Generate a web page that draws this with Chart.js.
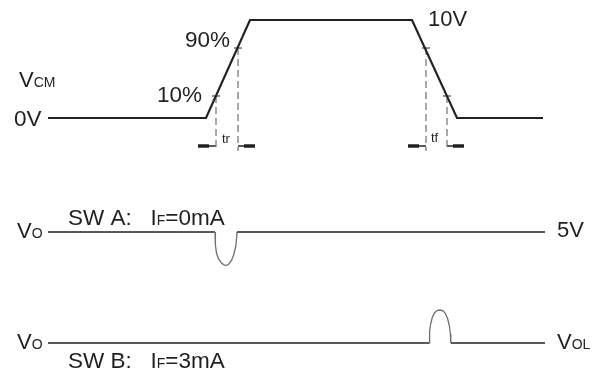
<!DOCTYPE html>
<html>
<head>
<meta charset="utf-8">
<script src="https://cdn.jsdelivr.net/npm/chart.js@4/dist/chart.umd.min.js"></script>
<style>
    html, body { margin: 0; padding: 0; background: #fff; }
    canvas { display: block; }
</style>
</head>
<body>
<canvas id="myChart" width="601" height="373"></canvas>
<script>
// diagram units: x = time position, y = level position (0 at top)
const vcmX = [48, 206, 250, 412, 457, 543]
const vcmY = [118, 118, 20, 20, 118, 118]

// 10% / 90% marks on the edges
const markX = [216, 238, 426, 447]
const markY = [96, 48, 48, 96]
const dashBottom = 151

// tr / tf arrows
const arrowOuterX = [198, 255, 408, 464]
const arrowY = 146

// SW A output, with the dip
const swaX = [48, 215, 215.4, 216.5, 218.5, 221.5, 224, 226, 228.5, 231.5, 234, 235.8, 236.6, 237, 545]
const swaY = [232, 232, 245, 253, 259, 263, 264.8, 265.3, 264.5, 260.5, 254, 246, 238, 232, 232]

// SW B output, with the bump
const swbX = [48, 429.3, 429.6, 430.6, 432.3, 434.5, 437, 440, 443, 445.5, 447.6, 449.4, 450.4, 450.8, 545]
const swbY = [343, 343, 332, 324, 317.5, 313, 310.6, 310, 310.8, 313.5, 318.5, 326, 334, 343, 343]

const dark = "#222222"
const gray = "#6e6e6e"
const textColor = "#231f20"

function pts(xs, ys) {
    return xs.map((x, i) => ({ x: x, y: ys[i] }))
}

let datasets = []

datasets.push({
    data: pts(vcmX, vcmY),
    borderColor: dark,
    borderWidth: 2.2,
})

for (let i = 0; i < markX.length; i++) {
    // small tick across the edge
    datasets.push({
        data: pts([markX[i] - 4, markX[i] + 4], [markY[i], markY[i]]),
        borderColor: dark,
        borderWidth: 1,
    })
    // dashed drop line
    datasets.push({
        data: pts([markX[i], markX[i]], [markY[i], dashBottom]),
        borderColor: "#7a7a7a",
        borderWidth: 1.3,
        borderDash: [7, 4],
    })
    // arrow shaft
    datasets.push({
        data: pts([arrowOuterX[i], markX[i]], [arrowY, arrowY]),
        borderColor: dark,
        borderWidth: 1.5,
    })
    // arrow head (thick end)
    let dir = arrowOuterX[i] < markX[i] ? 1 : -1
    datasets.push({
        data: pts([arrowOuterX[i], arrowOuterX[i] + dir * 11], [arrowY, arrowY]),
        borderColor: dark,
        borderWidth: 3.5,
    })
}

function curveSegments(flatEndA, flatStartB) {
    return {
        borderColor: (c) => (c.p0DataIndex >= flatEndA && c.p1DataIndex <= flatStartB ? gray : dark),
        borderWidth: (c) => (c.p0DataIndex >= flatEndA && c.p1DataIndex <= flatStartB ? 1.3 : 1.6),
    }
}

datasets.push({
    data: pts(swaX, swaY),
    borderColor: dark,
    borderWidth: 1.6,
    segment: curveSegments(1, swaX.length - 2),
})

datasets.push({
    data: pts(swbX, swbY),
    borderColor: dark,
    borderWidth: 1.6,
    segment: curveSegments(1, swbX.length - 2),
})

// text labels: [x, baseline y, [text, size] ...]
const labels = [
    [19, 87, ["V", 22], ["CM", 14]],
    [14, 126, ["0V", 22.5]],
    [157, 102, ["10%", 22.5]],
    [185, 47, ["90%", 22.5]],
    [428, 26, ["10V", 22]],
    [222, 143, ["tr", 13]],
    [431, 142, ["tf", 13]],
    [17, 238, ["V", 22], ["O", 14]],
    [68, 225, ["SW A:   I", 22.5], ["F", 14], ["=0mA", 22.5]],
    [557, 237, ["5V", 22]],
    [17, 349, ["V", 22], ["O", 14]],
    [68, 368, ["SW B:   I", 22.5], ["F", 14], ["=3mA", 22.5]],
    [557, 349, ["V", 22], ["OL", 14]],
]

const labelPlugin = {
    id: "labelPlugin",
    afterDraw(chart) {
        const c = chart.ctx
        const xs = chart.scales.x
        const ys = chart.scales.y
        c.save()
        c.fillStyle = textColor
        c.textBaseline = "alphabetic"
        c.textAlign = "left"
        labels.forEach((lab) => {
            let px = xs.getPixelForValue(lab[0])
            let py = ys.getPixelForValue(lab[1])
            for (let k = 2; k < lab.length; k++) {
                c.font = lab[k][1] + 'px "Liberation Sans", Arial, sans-serif'
                c.fillText(lab[k][0], px, py)
                px += c.measureText(lab[k][0]).width
            }
        })
        c.restore()
    },
}

const ctx = document.getElementById("myChart").getContext("2d")
let myChart = new Chart(ctx, {
    type: "scatter",
    data: { datasets: datasets.map((d) => Object.assign({ showLine: true, pointRadius: 0, fill: false, tension: 0 }, d)) },
    options: {
        responsive: false,
        animation: false,
        devicePixelRatio: 1,
        layout: { padding: 0 },
        plugins: { legend: { display: false }, tooltip: { enabled: false } },
        scales: {
            x: { type: "linear", min: 0, max: 601, display: false },
            y: { type: "linear", min: 0, max: 373, reverse: true, display: false },
        },
    },
    plugins: [labelPlugin],
})
</script>
</body>
</html>
